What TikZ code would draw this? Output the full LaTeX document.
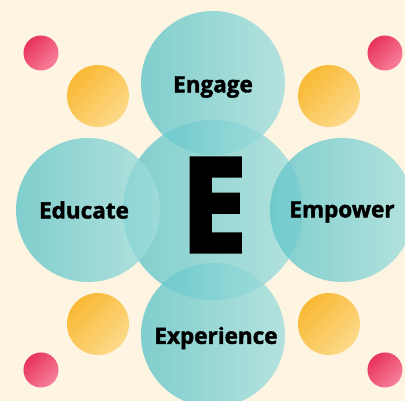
\documentclass[tikz,border=0pt]{standalone}
\usepackage{fontspec}
\setmainfont{Open Sans}
\newfontfamily\wordfont{Open Sans Bold}[FakeBold=1.8]
\newfontfamily\bigfont{Open Sans Bold}[FakeBold=4]
\usepackage{tikz}
\definecolor{cream}{RGB}{253,244,226}
\definecolor{tealA}{RGB}{97,197,201}
\definecolor{tealB}{RGB}{162,222,221}
\definecolor{redA}{RGB}{233,51,92}
\definecolor{redB}{RGB}{246,128,155}
\definecolor{orangeA}{RGB}{249,185,52}
\definecolor{orangeB}{RGB}{252,217,138}
\tikzset{
	bubble/.style={
		shape = circle,
		inner sep = 0,
		minimum size = 144pt,
		left color = tealA,
		right color = tealB,
		opacity = 0.8
	},
	hub/.style={
		bubble,
		minimum size = 180pt
	},
	reddot/.style={
		shape = circle,
		inner sep = 0,
		minimum size = 35pt,
		top color = redA,
		bottom color = redB,
		shading angle = 45
	},
	orangedot/.style={
		shape = circle,
		inner sep = 0,
		minimum size = 62pt,
		top color = orangeA,
		bottom color = orangeB,
		shading angle = 45
	},
	word/.style={
		font = \wordfont\fontsize{22.5}{26}\selectfont
	},
}

\begin{document}
\begin{tikzpicture}[x=1pt, y=1pt]
    \fill[cream] (-213,-191) rectangle (192,210);
    \useasboundingbox (-213,-191) rectangle (192,210);
    \foreach \x/\y/\n in {-172/157/1, 172/157/2, -172/-160/3, 172/-160/4}{
      \node[reddot] (red\n) at (\x,\y) {};
    }
    \foreach \x/\y/\n in {-115/114/1, 116/114/2, -115/-114/3, 116/-114/4}{
      \node[orangedot] (orange\n) at (\x,\y) {};
    }
    \node[hub] (hub) at (0,0) {};
    \node[bubble] (engage) at (0,127) {};
    \node[bubble] (educate) at (-125,0) {};
    \node[bubble] (empower) at (129,0) {};
    \node[bubble] (experience) at (0,-125) {};
    \node[word] (engagetext) at (0,123) {Engage};
    \node[word] (educatetext) at (-129,0) {Educate};
    \node[word] (empowertext) at (129,-2) {Empower};
    \node[word] (experiencetext) at (3,-128) {Experience};
    \node[font=\bigfont\fontsize{129}{133}\selectfont, xscale=0.9] (bigE) at (1,5) {E};
\end{tikzpicture}
\end{document}
